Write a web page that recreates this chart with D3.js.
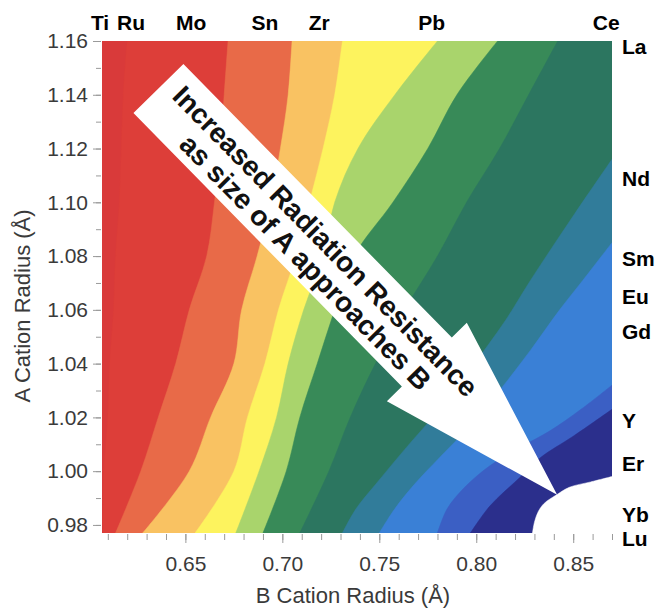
<!DOCTYPE html>
<html>
<head>
<meta charset="utf-8">
<script src="https://cdn.jsdelivr.net/npm/d3@7"></script>
<style>
  body { margin: 0; background: #fff; }
  svg { display: block; font-family: "Liberation Sans", Arial, Helvetica, sans-serif; }
</style>
</head>
<body>
<div id="chartBox"></div>
<script>
(function () {
  'use strict';

  // A cation radius levels where the upper contour edges were read
  var aLevels = [1.16, 1.14, 1.12, 1.10, 1.08, 1.06, 1.04, 1.02, 1.00, 0.977];

  // B radius of each contour edge at the aLevels above (left -> right)
  var edgeDarkRed  = [0.620, 0.618, 0.617, 0.616, 0.614, 0.613, 0.611, 0.610, 0.608, 0.6075];
  var edgeRed      = [0.672, 0.670, 0.668, 0.665, 0.661, 0.652, 0.645, 0.636, 0.627, 0.614];
  var edgeOrange   = [0.705, 0.703, 0.699, 0.694, 0.687, 0.679, 0.675, 0.663, 0.652, 0.628];
  var edgeLtOrange = [0.731, 0.727, 0.721, 0.714, 0.707, 0.698, 0.691, 0.682, 0.675, 0.655];
  var edgeYellow   = [0.780, 0.758, 0.739, 0.727, 0.721, 0.711, 0.703, 0.697, 0.688, 0.676];
  var edgeLtGreen  = [0.811, 0.790, 0.775, 0.757, 0.737, 0.727, 0.718, 0.709, 0.702, 0.690];
  var edgeGreen    = [0.842, 0.827, 0.812, 0.795, 0.780, 0.763, 0.748, 0.735, 0.724, 0.709];

  // lower right edges start on the right side, so [B, A] pairs
  var edgeDkGreen = [[0.870, 1.116], [0.851, 1.096], [0.828, 1.071], [0.815, 1.056], [0.797, 1.038],
                     [0.781, 1.023], [0.763, 1.008], [0.748, 0.995], [0.738, 0.986], [0.731, 0.977]];
  var edgeTeal    = [[0.870, 1.085], [0.855, 1.071], [0.843, 1.060], [0.828, 1.045], [0.812, 1.030],
                     [0.797, 1.017], [0.781, 1.005], [0.768, 0.995], [0.758, 0.986], [0.750, 0.977]];
  var edgeBlue    = [[0.870, 1.032], [0.854, 1.023], [0.838, 1.015], [0.823, 1.009], [0.807, 1.002],
                     [0.794, 0.994], [0.785, 0.986], [0.780, 0.977]];
  var edgeMidBlue = [[0.870, 1.023], [0.850, 1.013], [0.833, 1.005], [0.823, 0.998], [0.807, 0.987],
                     [0.797, 0.977]];
  var edgeNavy    = [[0.870, 0.998], [0.859, 0.996], [0.848, 0.994], [0.841, 0.991], [0.835, 0.988],
                     [0.832, 0.985], [0.830, 0.981], [0.829, 0.977]];

  var bandColors = ["#d93a3a", "#dd3e39", "#e86a48", "#f9c262", "#fdf35e", "#a9d46c",
                    "#388a58", "#2c7660", "#317c9a", "#3a80d6", "#3b5fc4", "#2b2f8c", "#ffffff"];

  // element labels (B site on top, A site on the right)
  var bNames = ["Ti", "Ru", "Mo", "Sn", "Zr", "Pb", "Ce"];
  var bRadii = [0.606, 0.622, 0.653, 0.691, 0.719, 0.777, 0.867];
  var aNames = ["La", "Nd", "Sm", "Eu", "Gd", "Y", "Er", "Yb", "Lu"];
  var aRadii = [1.158, 1.109, 1.079, 1.065, 1.052, 1.019, 1.003, 0.984, 0.975];

  var xMajor = [0.65, 0.70, 0.75, 0.80, 0.85];
  var yMajor = [0.98, 1.00, 1.02, 1.04, 1.06, 1.08, 1.10, 1.12, 1.14, 1.16];

  // arrow from tail to tip, in radius units
  var arrowTail = [0.6361, 1.1423],
      arrowTip = [0.8417, 0.9912];
  var arrowLines = ["Increased Radiation Resistance", "as size of A approaches B"];

  var margin = {top: 41, right: 47, bottom: 76, left: 102},
      outerWidth = 659,
      outerHeight = 609,
      width = outerWidth - margin.left - margin.right,
      height = outerHeight - margin.top - margin.bottom;

  var x = d3.scaleLinear().domain([0.607, 0.870]).range([0, width]);
  var y = d3.scaleLinear().domain([0.977, 1.16]).range([height, 0]);

  var svg = d3.select("#chartBox").append("svg")
    .attr("width", outerWidth)
    .attr("height", outerHeight);

  svg.append("defs").append("clipPath")
    .attr("id", "plotClip")
    .append("rect")
    .attr("width", width)
    .attr("height", height);

  var chart = svg.append("g")
    .attr("transform", "translate(" + margin.left + "," + margin.top + ")");

  var bands = chart.append("g").attr("clip-path", "url(#plotClip)");

  var edges = [edgeDarkRed, edgeRed, edgeOrange, edgeLtOrange, edgeYellow, edgeLtGreen, edgeGreen]
    .map(function(e) {
      return e.map(function(b, j) { return [b, aLevels[j]]; });
    })
    .concat([edgeDkGreen, edgeTeal, edgeBlue, edgeMidBlue, edgeNavy]);

  var line = d3.line()
    .x(function(d) { return x(d[0]); })
    .y(function(d) { return y(d[1]); })
    .curve(d3.curveCatmullRom);

  // base colour, then each edge paints everything to its right
  bands.append("rect")
    .attr("width", width)
    .attr("height", height)
    .style("fill", bandColors[0]);

  bands.selectAll("path.band")
    .data(edges)
    .enter().append("path")
    .attr("class", "band")
    .style("fill", function(d, i) { return bandColors[i + 1]; })
    .style("stroke", function(d, i) { return bandColors[i + 1]; })
    .style("stroke-width", 0.5)
    .attr("d", function(d) {
      var p = line(d) + "L" + x(0.870) + "," + y(0.977);
      if (d[0][1] >= 1.16) p += "L" + x(0.870) + "," + y(1.16);
      return p + "Z";
    });

  // axes
  var xMinorAxis = d3.axisBottom(x)
    .tickValues(d3.range(61, 88).map(function(d) { return d / 100; }))
    .tickSize(6).tickFormat("");
  var xMajorAxis = d3.axisBottom(x)
    .tickValues(xMajor).tickSize(9).tickPadding(13)
    .tickFormat(d3.format(".2f"));
  var yMinorAxis = d3.axisLeft(y)
    .tickValues(d3.range(98, 117).map(function(d) { return d / 100; }))
    .tickSize(5).tickFormat("");
  var yMajorAxis = d3.axisLeft(y)
    .tickValues(yMajor).tickSize(8).tickPadding(5)
    .tickFormat(d3.format(".2f"));

  [xMinorAxis, xMajorAxis].forEach(function(ax) {
    chart.append("g")
      .attr("class", "x axis")
      .attr("transform", "translate(0," + (height + 1) + ")")
      .call(ax);
  });
  [yMinorAxis, yMajorAxis].forEach(function(ax) {
    chart.append("g")
      .attr("class", "y axis")
      .attr("transform", "translate(-1,0)")
      .call(ax);
  });

  chart.selectAll(".axis .domain").remove();
  chart.selectAll(".axis line").style("stroke", "#9a9a9a");
  chart.selectAll(".axis text")
    .style("font-size", "21px")
    .style("fill", "#3a3a3a")
    .style("font-family", "Liberation Sans, Arial, sans-serif");

  chart.append("text")
    .attr("x", 251)
    .attr("y", height + 70)
    .style("text-anchor", "middle")
    .style("font-size", "22px")
    .style("fill", "#3a3a3a")
    .text("B Cation Radius (Å)");

  chart.append("text")
    .attr("transform", "translate(" + (-80) + "," + (height / 2 + 19) + ") rotate(-90)")
    .attr("dy", "0.35em")
    .style("text-anchor", "middle")
    .style("font-size", "22px")
    .style("fill", "#3a3a3a")
    .text("A Cation Radius (Å)");

  // element labels
  chart.selectAll(".bname")
    .data(bNames)
    .enter().append("text")
    .attr("class", "bname")
    .attr("x", function(d, i) { return x(bRadii[i]); })
    .attr("y", -11)
    .style("text-anchor", "middle")
    .style("font-size", "21px")
    .style("font-weight", "bold")
    .text(function(d) { return d; });

  chart.selectAll(".aname")
    .data(aNames)
    .enter().append("text")
    .attr("class", "aname")
    .attr("x", width + 10)
    .attr("y", function(d, i) { return y(aRadii[i]); })
    .attr("dy", "0.36em")
    .style("font-size", "21px")
    .style("font-weight", "bold")
    .text(function(d) { return d; });

  // the big white arrow
  var tx = x(arrowTail[0]), ty = y(arrowTail[1]),
      hx = x(arrowTip[0]), hy = y(arrowTip[1]);
  var len = Math.sqrt((hx - tx) * (hx - tx) + (hy - ty) * (hy - ty)),
      ang = Math.atan2(hy - ty, hx - tx) * 180 / Math.PI;
  var shaftW = 35, headW = 56, headL = 186;

  var arrow = chart.append("g")
    .attr("transform", "translate(" + tx + "," + ty + ") rotate(" + ang + ")");

  arrow.append("path")
    .style("fill", "#ffffff")
    .attr("d", "M0," + (-shaftW) +
      "L" + (len - headL) + "," + (-shaftW) +
      "L" + (len - headL) + "," + (-headW) +
      "L" + len + ",0" +
      "L" + (len - headL) + "," + headW +
      "L" + (len - headL) + "," + shaftW +
      "L0," + shaftW + "Z");

  arrow.selectAll("text")
    .data(arrowLines)
    .enter().append("text")
    .attr("x", function(d, i) { return i ? 227 : 226; })
    .attr("y", function(d, i) { return (i ? 16.4 : -12.6) + 10; })
    .style("text-anchor", "middle")
    .style("font-size", "28px")
    .style("font-weight", "bold")
    .style("fill", "#111")
    .text(function(d) { return d; });

})();
</script>
</body>
</html>
